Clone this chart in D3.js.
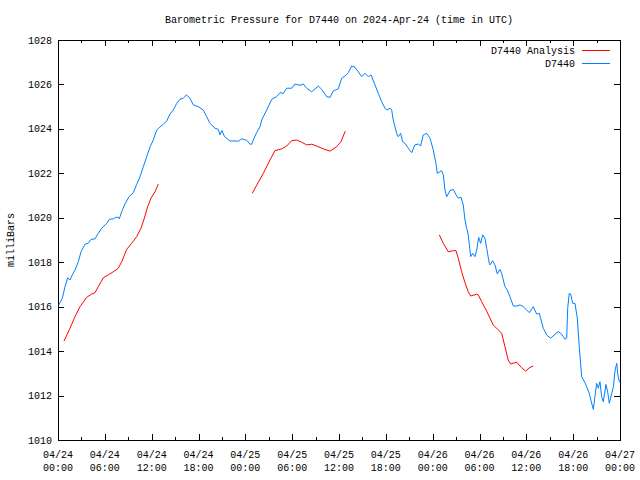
<!DOCTYPE html>
<html>
<head>
<meta charset="utf-8">
<script src="https://cdn.jsdelivr.net/npm/d3@7"></script>
<style>
  html, body { margin: 0; padding: 0; background: #fff; }
  svg { display: block; }
  text { font-family: "Liberation Mono", "DejaVu Sans Mono", monospace; font-size: 10px; fill: #000; }
</style>
</head>
<body>
<svg id="chart" width="640" height="480"></svg>
<script>
// ---- data (hours since 2024-04-24 00:00 UTC, pressure in mbar) ----
const titleText = "Barometric Pressure for D7440 on 2024-Apr-24 (time in UTC)";
const yLabel = "milliBars";
const seriesNames = ["D7440 Analysis", "D7440"];
const yTicks = [1010, 1012, 1014, 1016, 1018, 1020, 1022, 1024, 1026, 1028];
const xTickHours = [0, 6, 12, 18, 24, 30, 36, 42, 48, 54, 60, 66, 72];

const obsHours = [0.13,0.26,0.55,0.90,1.24,1.54,1.83,2.18,2.60,2.95,3.46,3.88,4.23,4.74,5.16,5.60,6.24,6.57,7.08,7.39,7.72,7.85,8.16,8.58,9.10,9.65,10.08,10.50,10.93,11.36,11.79,12.21,12.64,13.07,13.49,13.93,14.35,14.77,15.21,15.63,16.05,16.44,16.91,17.33,17.97,18.61,19.05,19.47,20.11,20.54,20.75,21.01,21.33,22.03,23.12,23.53,24.17,24.60,24.81,25.02,25.46,25.88,26.10,26.74,27.38,28.02,28.44,28.86,29.30,29.94,30.36,31.00,31.42,31.86,32.50,33.35,33.78,34.42,34.85,35.27,35.91,36.34,36.77,37.19,37.62,38.05,38.47,38.91,39.33,39.75,40.10,40.61,41.03,41.47,41.89,42.11,42.53,42.75,42.95,43.39,43.59,43.90,44.16,44.45,44.88,45.31,45.73,46.16,46.46,46.80,47.23,47.66,48.08,48.42,48.59,49.15,49.36,49.58,49.80,50.22,50.64,50.99,51.28,51.63,51.92,52.14,52.36,52.56,52.87,53.13,53.42,53.64,53.89,54.15,54.41,54.70,54.92,55.25,55.34,55.69,55.98,56.28,56.62,56.84,57.26,57.56,57.90,58.33,58.76,59.19,59.61,60.04,60.38,60.89,61.32,61.66,62.17,62.61,63.12,63.67,64.09,64.53,64.95,65.17,65.30,65.50,65.68,65.94,66.23,66.53,66.78,67.09,67.51,67.81,68.06,68.37,68.58,68.79,69.01,69.22,69.43,69.65,69.86,70.20,70.42,70.63,70.94,71.16,71.37,71.59,71.72,71.93];
const obsPressure = [1016.08,1016.18,1016.38,1016.90,1017.30,1017.20,1017.43,1017.65,1018.02,1018.47,1018.81,1018.85,1019.03,1019.05,1019.30,1019.53,1019.75,1019.93,1019.95,1020.02,1020.02,1019.95,1020.28,1020.62,1020.95,1021.13,1021.50,1021.84,1022.30,1022.75,1023.19,1023.50,1023.95,1024.09,1024.20,1024.36,1024.67,1024.85,1025.15,1025.33,1025.38,1025.53,1025.38,1025.08,1025.00,1024.85,1024.55,1024.25,1024.03,1023.98,1023.73,1023.93,1023.65,1023.46,1023.45,1023.55,1023.49,1023.31,1023.31,1023.50,1023.84,1024.10,1024.40,1024.85,1025.33,1025.45,1025.63,1025.60,1025.83,1025.83,1026.02,1025.96,1026.02,1025.83,1025.67,1025.93,1025.78,1025.45,1025.42,1025.71,1025.80,1026.28,1026.38,1026.53,1026.83,1026.77,1026.57,1026.35,1026.50,1026.35,1026.43,1025.98,1025.60,1025.22,1024.93,1024.85,1024.93,1024.85,1024.40,1023.80,1023.65,1023.80,1023.42,1023.35,1023.13,1022.93,1023.28,1023.32,1023.23,1023.73,1023.80,1023.58,1023.05,1022.45,1022.00,1022.12,1021.93,1021.25,1020.95,1021.22,1021.28,1021.03,1020.88,1020.92,1020.58,1019.90,1019.53,1019.23,1018.25,1018.40,1018.25,1018.55,1019.12,1018.85,1019.23,1019.08,1018.63,1017.95,1017.88,1018.07,1017.88,1017.47,1017.68,1017.50,1016.90,1016.75,1016.45,1016.03,1016.03,1016.08,1016.00,1015.85,1015.73,1016.00,1015.67,1015.70,1015.03,1014.72,1014.58,1014.76,1014.88,1014.76,1014.53,1014.58,1015.93,1016.60,1016.57,1016.15,1016.15,1015.48,1014.20,1012.85,1012.58,1012.33,1012.10,1011.65,1011.38,1011.95,1012.55,1012.33,1012.62,1011.95,1011.72,1012.50,1012.17,1011.65,1012.10,1012.40,1013.15,1013.45,1012.93,1012.60];

// analysis series: three runs, separated by null
const anHours = [0.77,1.54,2.18,2.82,3.68,4.32,4.74,5.16,5.80,6.44,7.08,7.72,8.16,8.80,9.44,10.08,10.63,11.06,11.49,11.91,12.43,12.85,
  null,
  24.89,25.46,26.30,27.16,27.80,28.66,29.30,29.94,30.58,31.22,31.86,32.50,33.14,33.99,34.85,35.70,36.25,36.81,
  null,
  48.85,49.36,50.00,50.64,50.99,51.28,51.72,52.14,52.56,52.87,53.64,53.84,54.28,54.92,55.76,56.20,56.84,57.26,57.68,57.99,58.76,59.40,59.91,60.47,60.89];
const anPressure = [1014.45,1015.03,1015.55,1016.00,1016.42,1016.57,1016.63,1016.90,1017.30,1017.43,1017.57,1017.73,1018.02,1018.58,1018.85,1019.15,1019.53,1019.98,1020.50,1020.88,1021.17,1021.52,
  null,
  1021.10,1021.47,1022.00,1022.60,1023.02,1023.10,1023.23,1023.47,1023.50,1023.40,1023.28,1023.31,1023.23,1023.10,1023.00,1023.20,1023.42,1023.90,
  null,
  1019.23,1018.85,1018.47,1018.52,1018.52,1018.18,1017.57,1017.08,1016.67,1016.48,1016.56,1016.53,1016.22,1015.80,1015.17,1015.03,1014.80,1014.20,1013.60,1013.42,1013.50,1013.25,1013.10,1013.27,1013.33];

// ---- drawing ----
const base = Date.UTC(2024, 3, 24, 0, 0);
const toDate = h => new Date(base + h * 3600000);

const svg = d3.select("#chart");
const L = 58, R = 620, T = 40, B = 440;

const x = d3.scaleUtc().domain([toDate(0), toDate(72)]).range([L, R]);
const y = d3.scaleLinear().domain([1010, 1028]).range([B, T]);

const fmtDate = d3.utcFormat("%m/%d");
const fmtTime = d3.utcFormat("%H:%M");

// title
svg.append("text").attr("x", 339).attr("y", 23).attr("text-anchor", "middle").text(titleText);

// y label
svg.append("text").attr("transform", "translate(14,240) rotate(-90)")
  .attr("text-anchor", "middle").text(yLabel);

const g = svg.append("g");

// ticks (inward, all four sides)
const minorHours = d3.range(3, 72, 6);
xTickHours.forEach(h => {
  const px = Math.round(x(toDate(h))) + 0.5;
  g.append("line").attr("x1", px).attr("x2", px).attr("y1", B).attr("y2", B - 6).attr("stroke", "#000");
  g.append("line").attr("x1", px).attr("x2", px).attr("y1", T).attr("y2", T + 6).attr("stroke", "#000");
  const t = svg.append("text").attr("x", x(toDate(h))).attr("text-anchor", "middle");
  t.append("tspan").attr("x", x(toDate(h))).attr("y", 458).text(fmtDate(toDate(h)));
  t.append("tspan").attr("x", x(toDate(h))).attr("y", 471).text(fmtTime(toDate(h)));
});
minorHours.forEach(h => {
  const px = Math.round(x(toDate(h))) + 0.5;
  g.append("line").attr("x1", px).attr("x2", px).attr("y1", B).attr("y2", B - 3).attr("stroke", "#000");
  g.append("line").attr("x1", px).attr("x2", px).attr("y1", T).attr("y2", T + 3).attr("stroke", "#000");
});
yTicks.forEach(v => {
  const py = Math.round(y(v)) + 0.5;
  g.append("line").attr("x1", L).attr("x2", L + 6).attr("y1", py).attr("y2", py).attr("stroke", "#000");
  g.append("line").attr("x1", R).attr("x2", R - 6).attr("y1", py).attr("y2", py).attr("stroke", "#000");
  svg.append("text").attr("x", 52).attr("y", y(v) + 3.5).attr("text-anchor", "end").text(v);
});

// border
g.append("rect").attr("x", L + 0.5).attr("y", T + 0.5).attr("width", R - L).attr("height", B - T)
  .attr("fill", "none").attr("stroke", "#000");

// lines
const obs = obsHours.map((h, i) => ({ t: toDate(h), v: obsPressure[i] }));
const an = anHours.map((h, i) => ({ t: h === null ? null : toDate(h), v: anPressure[i] }));

const line = d3.line().defined(d => d.t !== null && d.v !== null)
  .x(d => x(d.t)).y(d => y(d.v));

svg.append("path").datum(an).attr("d", line).attr("fill", "none").attr("stroke", "#ff0000").attr("stroke-width", 1);
svg.append("path").datum(obs).attr("d", line).attr("fill", "none").attr("stroke", "#0080ff").attr("stroke-width", 1);

// legend
const legColors = ["#ff0000", "#0080ff"];
seriesNames.forEach((n, i) => {
  const ly = 50 + i * 13;
  svg.append("text").attr("x", 575).attr("y", ly + 3.5).attr("text-anchor", "end").text(n);
  svg.append("line").attr("x1", 582).attr("x2", 610).attr("y1", ly + 0.5).attr("y2", ly + 0.5)
    .attr("stroke", legColors[i]).attr("stroke-width", 1);
});
</script>
</body>
</html>
